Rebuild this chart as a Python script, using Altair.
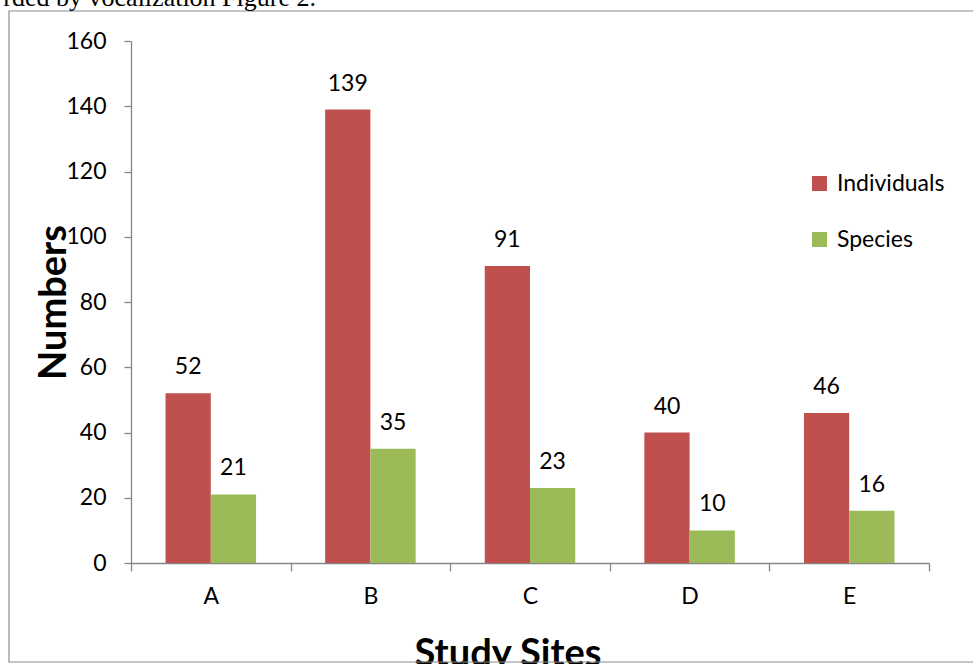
import altair as alt
import pandas as pd

sites = ["A", "B", "C", "D", "E"]
individuals = [52, 139, 91, 40, 46]
species = [21, 35, 23, 10, 16]
series = ["Individuals", "Species"]
colors = ["#C0504D", "#9BBB59"]
y_ticks = [0, 20, 40, 60, 80, 100, 120, 140, 160]
doc_text = ["rded by vocalization Figure 2."]

rows = []
for i, s in enumerate(sites):
    rows.append({"site": s, "series": series[0], "value": individuals[i]})
    rows.append({"site": s, "series": series[1], "value": species[i]})
df = pd.DataFrame(rows)

FONT = "Lato"
AX = "#868686"
FS = 23

x_enc = alt.X(
    "site:N",
    sort=sites,
    scale=alt.Scale(paddingInner=0, paddingOuter=0),
    axis=alt.Axis(
        title="Study Sites",
        tickBand="extent",
        labelAngle=0,
        tickSize=8,
        labelPadding=14,
        titleX=376.5,
        titleY=102,
        titleAlign="center",
        titleBaseline="alphabetic",
    ),
)
y_enc = alt.Y(
    "value:Q",
    scale=alt.Scale(domain=[0, 160], nice=False),
    axis=alt.Axis(
        title="Numbers",
        values=y_ticks,
        tickSize=7,
        labelPadding=18,
        grid=False,
        titleX=-66,
        titleY=261,
        titleAngle=270,
        titleAlign="center",
        titleBaseline="alphabetic",
    ),
)
xoff = alt.XOffset(
    "series:N",
    sort=series,
    scale=alt.Scale(paddingInner=0, paddingOuter=0.7635),
)
color = alt.Color(
    "series:N",
    sort=series,
    scale=alt.Scale(domain=series, range=colors),
    legend=alt.Legend(
        title=None,
        orient="none",
        legendX=677,
        legendY=131,
        symbolType="square",
        symbolSize=225,
        symbolStrokeWidth=0,
        labelFont=FONT,
        labelFontSize=FS,
        labelColor="black",
        labelOffset=6,
        rowPadding=32,
        padding=0,
    ),
)

base = alt.Chart(df)
bars = base.mark_bar().encode(x=x_enc, xOffset=xoff, y=y_enc, color=color)
labels = base.mark_text(
    font=FONT, fontSize=FS, color="black", baseline="middle", dy=-26
).encode(x=x_enc, xOffset=xoff, y=y_enc, text="value:Q")

frame = alt.Chart(pd.DataFrame({"t": [0]})).mark_rect(
    fill=None, stroke="#8c8c8c", strokeWidth=1.2
).encode(
    x=alt.value(-122), x2=alt.value(880), y=alt.value(-30), y2=alt.value(621)
)
top_text = alt.Chart(pd.DataFrame({"t": doc_text})).mark_text(
    font="Liberation Serif", fontSize=26, color="black", align="right",
    baseline="alphabetic"
).encode(x=alt.value(185), y=alt.value(-35), text="t:N")

chart = alt.layer(frame, bars, labels, top_text).properties(
    width=798,
    height=522,
    autosize=alt.AutoSizeParams(type="none"),
    padding={"left": 131, "top": 41, "right": 44, "bottom": 101},
    background="white",
).configure_view(stroke=None).configure_axis(
    domainColor=AX,
    tickColor=AX,
    domainWidth=1.3,
    tickWidth=1.3,
    labelFont=FONT,
    labelFontSize=FS,
    labelColor="black",
    titleFont=FONT,
    titleFontSize=38,
    titleFontWeight="bold",
    titleColor="black",
)

chart.save("out.html", embed_options={"renderer": "svg", "actions": False})
